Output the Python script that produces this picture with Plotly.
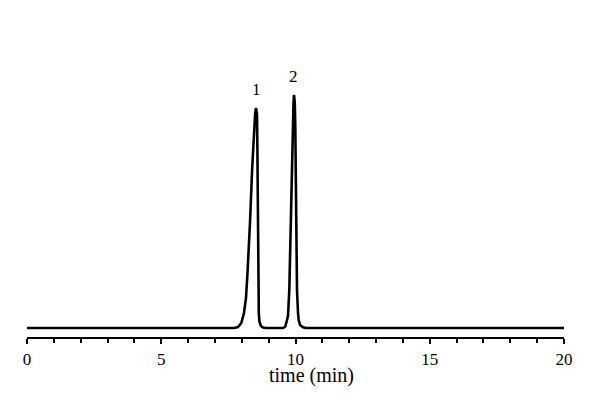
import plotly.graph_objects as go

# retention time (min) and detector signal (arbitrary units)
time_min = [0.0, 2.5, 5.0, 7.0, 7.60,
            7.710, 7.859, 7.981, 8.082, 8.156, 8.212, 8.268, 8.305, 8.387, 8.458, 8.499, 8.529,
            8.566, 8.577, 8.592, 8.603, 8.633, 8.659, 8.715, 8.790, 8.901,
            9.20, 9.534, 9.620, 9.721, 9.769, 9.806, 9.851, 9.896, 9.926, 9.944,
            9.974, 9.993, 10.019, 10.037, 10.056, 10.093, 10.119, 10.168, 10.279, 10.391,
            12.0, 15.0, 17.5, 20.0]
signal = [0, 0, 0, 0, 0,
          0, 1, 5, 15, 30, 55, 80, 105, 160, 200, 215, 220,
          214, 190, 110, 40, 15, 6, 2, 0.5, 0,
          0, 0, 1.5, 12, 38, 88, 150, 200, 225, 233,
          225, 200, 120, 60, 38, 15, 8, 3, 0.8, 0,
          0, 0, 0, 0]

peak_labels = ["1", "2"]
peak_times = [8.53, 9.92]
peak_label_y = [239, 252]

tick_vals = [0, 5, 10, 15, 20]
tick_text = ["0", "5", "10", "15", "20"]

FONT = "Liberation Serif"

fig = go.Figure()
fig.add_trace(go.Scatter(x=time_min, y=signal, mode="lines",
                         line=dict(color="black", width=2.6), hoverinfo="skip",
                         showlegend=False))

for lab, xt, yt in zip(peak_labels, peak_times, peak_label_y):
    fig.add_annotation(x=xt, y=yt, xref="x", yref="y", text=lab, showarrow=False,
                       font=dict(family=FONT, size=17, color="black"),
                       xanchor="center", yanchor="middle")

fig.add_annotation(x=10.61, y=-0.131, xref="x", yref="paper", text="time (min)",
                   showarrow=False, font=dict(family=FONT, size=20, color="black"),
                   xanchor="center", yanchor="middle")

fig.update_layout(
    width=592, height=392,
    margin=dict(l=19, r=36, t=32, b=63),
    plot_bgcolor="white", paper_bgcolor="white",
    font=dict(family=FONT, size=17, color="black"),
    xaxis=dict(range=[0, 20], showline=True, linecolor="black", linewidth=2.2,
               showgrid=False, zeroline=False,
               tickmode="array", tickvals=tick_vals, ticktext=tick_text,
               ticks="outside", ticklen=5, tickwidth=2, tickcolor="black",
               minor=dict(dtick=1, ticks="outside", ticklen=4, tickwidth=2,
                          tickcolor="black", showgrid=False),
               tickfont=dict(family=FONT, size=17, color="black")),
    yaxis=dict(range=[-9, 288], visible=False, showgrid=False, zeroline=False),
)

fig.write_html("out.html")
